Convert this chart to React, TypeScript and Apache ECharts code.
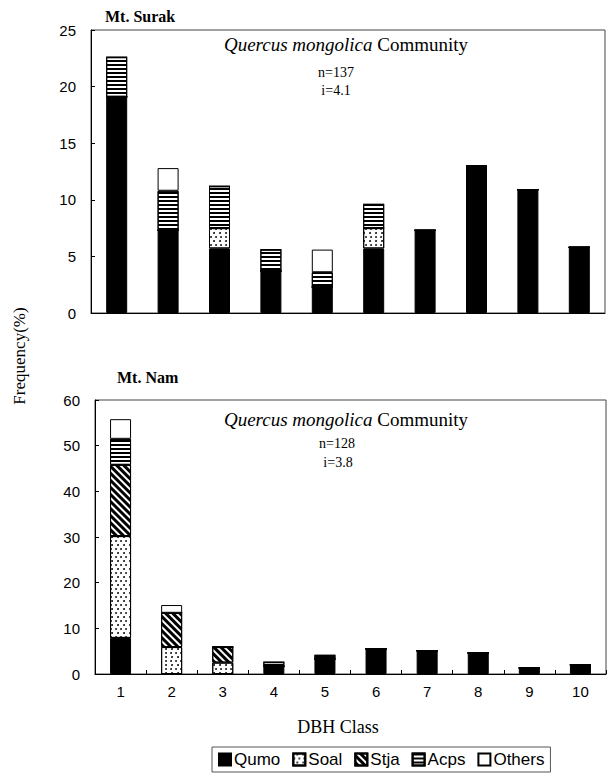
import React, { useEffect, useRef } from "react";
import * as echarts from "echarts";

const categories = ["1", "2", "3", "4", "5", "6", "7", "8", "9", "10"];
const speciesNames = ["Qumo", "Soal", "Stja", "Acps", "Others"];

// Mt. Surak (top panel), frequency %
const surakQumo = [19.1, 7.3, 5.7, 3.7, 2.3, 5.7, 7.3, 13.0, 10.9, 5.8];
const surakSoal = [0, 0, 1.8, 0, 0, 1.8, 0, 0, 0, 0];
const surakStja = [0, 0, 0, 0, 0, 0, 0, 0, 0, 0];
const surakAcps = [3.5, 3.5, 3.7, 1.9, 1.3, 2.1, 0, 0, 0, 0];
const surakOthers = [0, 2.0, 0, 0, 2.0, 0, 0, 0, 0, 0];

// Mt. Nam (bottom panel)
const namQumo = [7.9, 0, 0, 1.7, 3.3, 5.5, 5.1, 4.6, 1.3, 2.0];
const namSoal = [22.3, 5.9, 2.5, 0, 0, 0, 0, 0, 0, 0];
const namStja = [15.6, 7.5, 3.4, 0, 0, 0, 0, 0, 0, 0];
const namAcps = [5.7, 0, 0, 0.9, 0.8, 0, 0, 0, 0, 0];
const namOthers = [4.3, 1.7, 0, 0, 0, 0, 0, 0, 0, 0];

const surakTicks = [0, 5, 10, 15, 20, 25];
const namTicks = [0, 10, 20, 30, 40, 50, 60];

const SERIF = "'Liberation Serif', 'Times New Roman', serif";
const SANS = "'Liberation Sans', Arial, sans-serif";

const styles: Record<string, any> = {
  Qumo: { color: "#000", borderColor: "#000", borderWidth: 1 },
  Soal: {
    color: "#fff",
    borderColor: "#000",
    borderWidth: 1,
    decal: {
      symbol: "circle",
      symbolSize: 0.9,
      color: "#000",
      dashArrayX: [[2, 3], [0, 2.5, 2, 0.5]],
      dashArrayY: [2, 2],
    },
  },
  Stja: {
    color: "#fff",
    borderColor: "#000",
    borderWidth: 1,
    decal: {
      symbol: "rect",
      symbolSize: 1,
      color: "#000",
      dashArrayX: [1, 0],
      dashArrayY: [2.5, 2],
      rotation: Math.PI / 4,
    },
  },
  Acps: {
    color: "#fff",
    borderColor: "#000",
    borderWidth: 1,
    decal: {
      symbol: "rect",
      symbolSize: 1,
      color: "#000",
      dashArrayX: [1, 0],
      dashArrayY: [2, 1.5],
    },
  },
  Others: { color: "#fff", borderColor: "#000", borderWidth: 1 },
};

export default function App() {
  const ref = useRef<HTMLDivElement>(null);
  useEffect(() => {
    if (!ref.current) return;
    const chart = echarts.init(ref.current, undefined, { renderer: "svg" });
    const surak = [surakQumo, surakSoal, surakStja, surakAcps, surakOthers];
    const nam = [namQumo, namSoal, namStja, namAcps, namOthers];
    const series: any[] = [];
    speciesNames.forEach((name, k) => {
      series.push({
        type: "bar",
        name,
        xAxisIndex: 0,
        yAxisIndex: 0,
        stack: "surak",
        barWidth: 21,
        data: surak[k],
        itemStyle: styles[name],
      });
    });
    speciesNames.forEach((name, k) => {
      series.push({
        type: "bar",
        name,
        xAxisIndex: 1,
        yAxisIndex: 1,
        stack: "nam",
        barWidth: 21,
        data: nam[k],
        itemStyle: styles[name],
      });
    });
    const axisLine = { show: true, lineStyle: { color: "#000", width: 1 } };
    const richTitle = (y: number) => ({
      type: "text",
      x: 346,
      y,
      style: {
        text: "{i|Quercus mongolica} Community",
        font: `19px ${SERIF}`,
        fill: "#000",
        align: "center",
        verticalAlign: "middle",
        rich: { i: { fontStyle: "italic", fontFamily: SERIF, fontSize: 19, fill: "#000" } },
      },
    });
    const small = (text: string, x: number, y: number) => ({
      type: "text",
      x,
      y,
      style: { text, font: `14px ${SERIF}`, fill: "#000", align: "center", verticalAlign: "middle" },
    });
    chart.setOption({
      animation: false,
      backgroundColor: "#fff",
      grid: [
        { left: 91, top: 30, width: 514, height: 283, show: true, borderColor: "#444", borderWidth: 1 },
        { left: 95, top: 400, width: 511, height: 274, show: true, borderColor: "#444", borderWidth: 1 },
      ],
      xAxis: [
        {
          type: "category",
          gridIndex: 0,
          data: categories,
          axisLine,
          axisTick: { show: false },
          axisLabel: { show: false },
        },
        {
          type: "category",
          gridIndex: 1,
          data: categories,
          axisLine,
          axisTick: { show: true, inside: true, length: 4, lineStyle: { color: "#000" } },
          axisLabel: { color: "#000", fontFamily: SANS, fontSize: 15, margin: 10 },
        },
      ],
      yAxis: [
        {
          type: "value",
          gridIndex: 0,
          min: surakTicks[0],
          max: surakTicks[surakTicks.length - 1],
          interval: 5,
          axisLine,
          axisTick: { show: true, inside: true, length: 4, lineStyle: { color: "#000" } },
          splitLine: { show: false },
          axisLabel: { color: "#000", fontFamily: SANS, fontSize: 15, margin: 15 },
        },
        {
          type: "value",
          gridIndex: 1,
          min: namTicks[0],
          max: namTicks[namTicks.length - 1],
          interval: 10,
          axisLine,
          axisTick: { show: true, inside: true, length: 4, lineStyle: { color: "#000" } },
          splitLine: { show: false },
          axisLabel: { color: "#000", fontFamily: SANS, fontSize: 15, margin: 15 },
        },
      ],
      legend: {
        data: speciesNames,
        icon: "rect",
        left: 212,
        top: 747,
        orient: "horizontal",
        itemWidth: 12,
        itemHeight: 12,
        itemGap: 12,
        padding: [4, 6],
        borderColor: "#555",
        borderWidth: 1,
        selectedMode: false,
        textStyle: { color: "#000", fontFamily: SANS, fontSize: 17, padding: [0, 0, 0, -2] },
      },
      graphic: [
        { type: "text", left: 105, top: 8, style: { text: "Mt. Surak", font: `bold 16px ${SERIF}`, fill: "#000" } },
        { type: "text", left: 117, top: 369, style: { text: "Mt. Nam", font: `bold 16px ${SERIF}`, fill: "#000" } },
        {
          type: "text",
          x: 19,
          y: 356,
          rotation: Math.PI / 2,
          style: { text: "Frequency(%)", font: `17px ${SERIF}`, fill: "#000", align: "center", verticalAlign: "middle" },
        },
        richTitle(44),
        small("n=137", 336, 72),
        small("i=4.1", 336, 90),
        richTitle(419),
        small("n=128", 337, 443),
        small("i=3.8", 338, 462),
        { type: "text", x: 338, y: 727, style: { text: "DBH Class", font: `18px ${SERIF}`, fill: "#000", align: "center", verticalAlign: "middle" } },
      ],
      series,
    });
    return () => chart.dispose();
  }, []);
  return <div ref={ref} style={{ position: "fixed", left: 0, top: 0, width: 608, height: 781 }} />;
}
